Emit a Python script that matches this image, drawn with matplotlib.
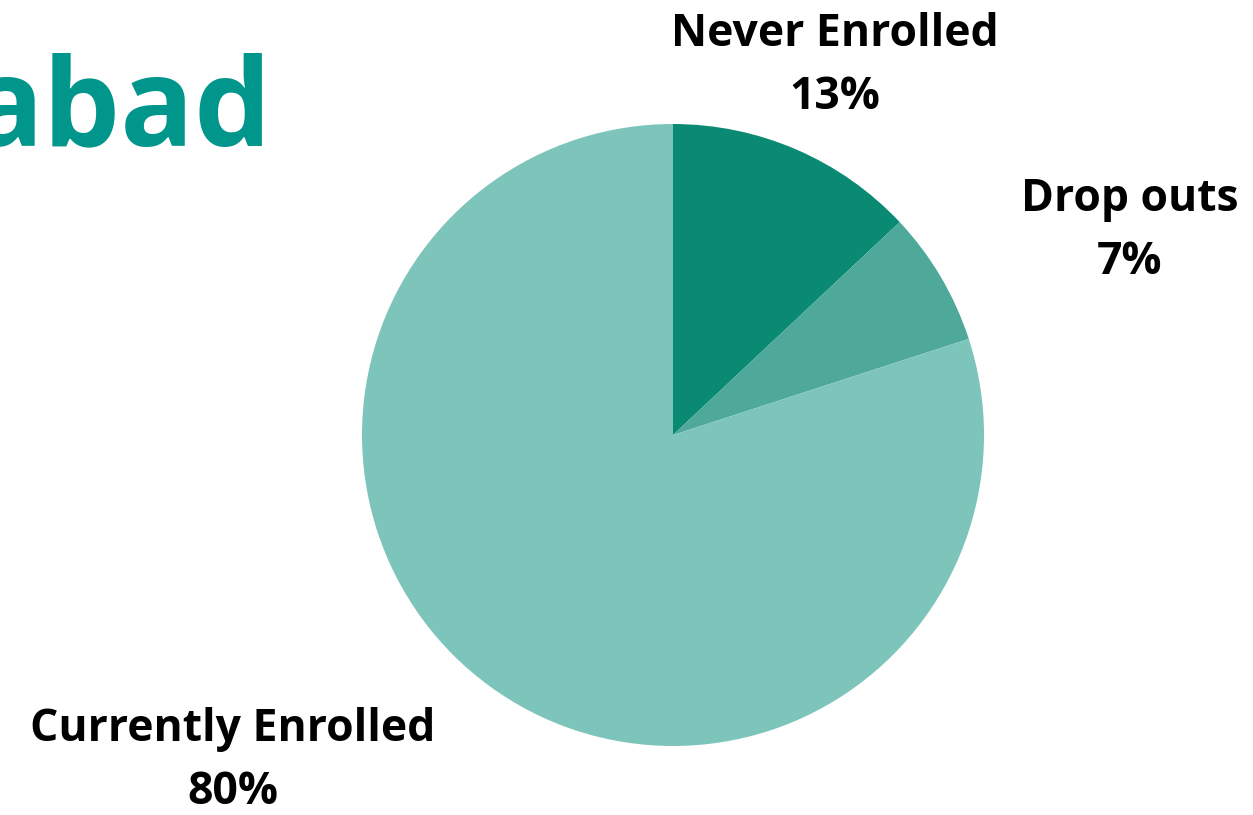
import matplotlib
matplotlib.use("Agg")
import matplotlib.pyplot as plt

categories = ["Never Enrolled", "Drop outs", "Currently Enrolled"]
shares = [13, 7, 80]
colors = ["#0a8a72", "#4ea99a", "#7dc5bb"]
title_text = "abad"

plt.rcParams["font.family"] = ["Open Sans", "DejaVu Sans"]

W, H = 1253, 815
fig = plt.figure(figsize=(W / 100, H / 100), dpi=100)
fig.patch.set_facecolor("white")

# pie axes: centre (673, 435) px, radius ~311 px
cx, cy, r = 673, 435, 311
ax = fig.add_axes([(cx - r) / W, 1 - (cy + r) / H, 2 * r / W, 2 * r / H])
ax.pie(shares, colors=colors, startangle=90, counterclock=False,
       wedgeprops=dict(linewidth=0))
ax.set_aspect("equal")
ax.set_xlim(-1, 1)
ax.set_ylim(-1, 1)
ax.axis("off")

# slice labels (pixel positions of label centres)
label_pos = {
    "Never Enrolled": (835, 66),
    "Drop outs": (1130, 231),
    "Currently Enrolled": (233, 761),
}
for name, val in zip(categories, shares):
    x, y = label_pos[name]
    fig.text(x / W, 1 - y / H, f"{name}\n{val}%", ha="center", va="center",
             fontsize=32, fontweight="bold", color="black", linespacing=1.52)

# partially visible heading at top-left
fig.text(-30 / W, 1 - 145 / H, title_text, ha="left", va="baseline",
         fontsize=88, fontweight="bold", color="#00968c")

fig.savefig("out.png", dpi=100, facecolor="white")
